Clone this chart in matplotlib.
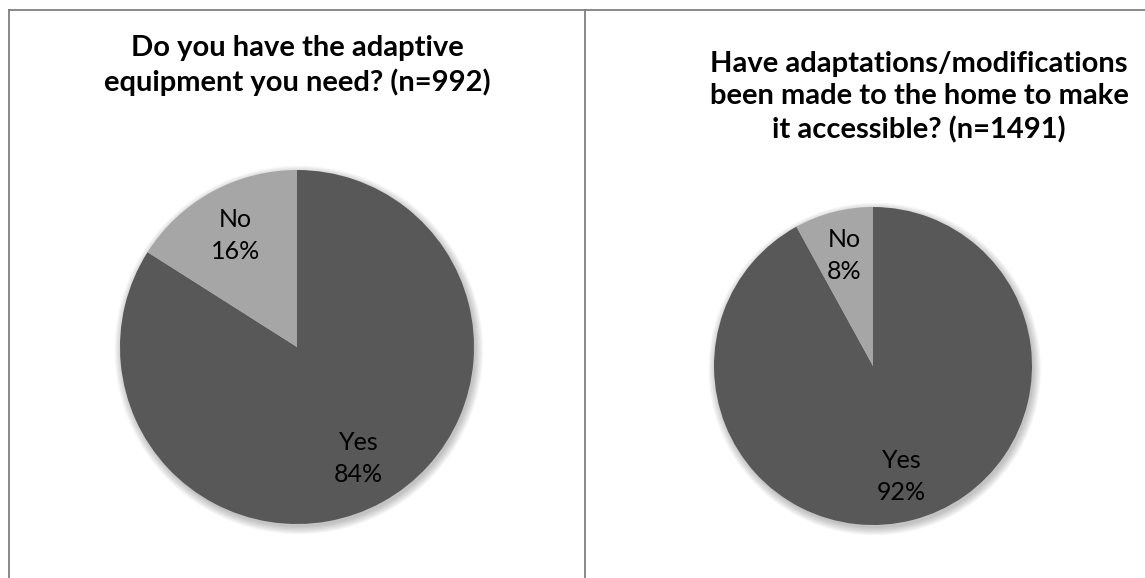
import matplotlib
matplotlib.use("Agg")
import matplotlib.pyplot as plt
from matplotlib.lines import Line2D
from matplotlib.patches import Circle

# Survey answers (percent of respondents)
categories = ["Yes", "No"]
equipment_values = [84, 16]
home_mod_values = [92, 8]

title_equipment = "Do you have the adaptive\nequipment you need? (n=992)"
title_home_mod = "Have adaptations/modifications\nbeen made to the home to make\nit accessible? (n=1491)"

W, H = 1145, 578
DPI = 100
DARK = "#585858"
LIGHT = "#a6a6a6"
BORDER = "#808080"
FONT = ["Lato", "DejaVu Sans"]

fig = plt.figure(figsize=(W / DPI, H / DPI), dpi=DPI)
fig.patch.set_facecolor("white")


def px_axes(cx, cy, r):
    """Axes covering a square of radius r (pixels) centred at (cx, cy), y from top."""
    left = (cx - r) / W
    bottom = (H - (cy + r)) / H
    ax = fig.add_axes([left, bottom, 2 * r / W, 2 * r / H])
    ax.set_xlim(-1, 1)
    ax.set_ylim(-1, 1)
    ax.set_aspect("equal")
    ax.axis("off")
    return ax


def draw_pie(ax, values, r_px):
    # soft drop shadow under the pie
    step = 1.2 / r_px
    for i in range(7):
        ax.add_patch(Circle((1.8 / r_px, -3.0 / r_px), 1 + i * step,
                            facecolor="black", edgecolor="none",
                            alpha=0.035, zorder=0, clip_on=False))
    labels = [f"{c}\n{v}%" for c, v in zip(categories, values)]
    wedges, texts = ax.pie(values, labels=labels, colors=[DARK, LIGHT],
                           startangle=90, counterclock=False,
                           labeldistance=0.72, radius=1,
                           wedgeprops=dict(linewidth=0, zorder=2),
                           textprops=dict(fontsize=18, family=FONT,
                                          color="black", linespacing=1.48))
    for w in wedges:
        w.set_zorder(2)
    for t in texts:
        t.set_ha("center")
        t.set_va("center")
        t.set_zorder(3)
    ax.set_xlim(-1, 1)
    ax.set_ylim(-1, 1)


ax1 = px_axes(297, 347, 177)
draw_pie(ax1, equipment_values, 177)

ax2 = px_axes(873, 366, 159)
draw_pie(ax2, home_mod_values, 159)

# Chart titles
fig.text(297 / W, 1 - 65.5 / H, title_equipment, ha="center", va="center",
         fontsize=21, fontweight="bold", family=FONT, linespacing=1.3)
fig.text(919 / W, 1 - 97 / H, title_home_mod, ha="center", va="center",
         fontsize=21, fontweight="bold", family=FONT, linespacing=1.3)

# Panel frame lines
for xs, ys in [([8.5, W], [9.5, 9.5]),
               ([8.5, 8.5], [9.5, H]),
               ([585, 585], [9.5, H])]:
    fig.add_artist(Line2D([x / W for x in xs], [1 - y / H for y in ys],
                          transform=fig.transFigure, color=BORDER, lw=1.3))

fig.savefig("out.png", dpi=DPI, facecolor="white")
